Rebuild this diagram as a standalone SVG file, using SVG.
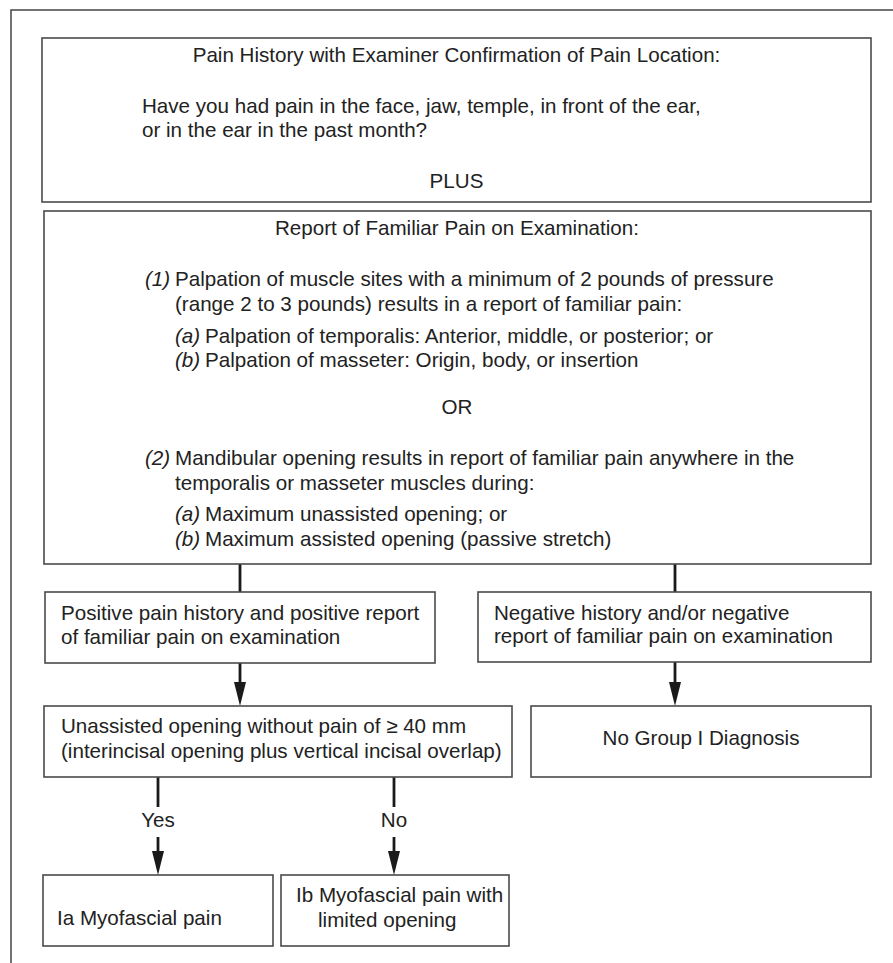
<svg xmlns="http://www.w3.org/2000/svg" width="893" height="963" viewBox="0 0 893 963">
<style>
  .bg { fill: #ffffff; }
  .frame { fill: none; stroke: #444; stroke-width: 1.5; }
  .box { fill: #ffffff; stroke: #4a4a4a; stroke-width: 1.6; }
  .t { font-family: "Liberation Sans", Arial, sans-serif; font-size: 20.6px; fill: #222; }
  .c { text-anchor: middle; }
  .i { font-style: italic; }
  .conn { fill: none; stroke: #1a1a1a; stroke-width: 2.8; }
  .arrow { marker-end: url(#ah); }
</style>
<defs>
  <marker id="ah" viewBox="0 -6 24 12" refX="4" refY="0" markerWidth="24" markerHeight="12" markerUnits="userSpaceOnUse" orient="auto">
    <path d="M0,-6 L24,0 L0,6 Z" fill="#1a1a1a"/>
  </marker>
</defs>
<rect class="bg" x="0" y="0" width="893" height="963"/>
<path class="frame" d="M11,963 L11,10 L893,10"/>

<g id="connectors">
  <line class="conn" x1="240" y1="564" x2="240" y2="592"/>
  <line class="conn" x1="675" y1="564" x2="675" y2="592"/>
  <line class="conn arrow" x1="240" y1="663" x2="240" y2="686"/>
  <line class="conn arrow" x1="675" y1="662" x2="675" y2="686"/>
  <line class="conn" x1="158" y1="777" x2="158" y2="807"/>
  <line class="conn arrow" x1="158" y1="837" x2="158" y2="855"/>
  <line class="conn" x1="394" y1="777" x2="394" y2="807"/>
  <line class="conn arrow" x1="394" y1="837" x2="394" y2="855"/>
  <text class="t c" x="158" y="827">Yes</text>
  <text class="t c" x="394" y="827">No</text>
</g>

<g id="history">
  <rect class="box" x="42" y="38" width="829" height="164"/>
  <text class="t c" x="456.5" y="62">Pain History with Examiner Confirmation of Pain Location:</text>
  <text class="t" x="142" y="113">Have you had pain in the face, jaw, temple, in front of the ear,</text>
  <text class="t" x="142" y="137">or in the ear in the past month?</text>
  <text class="t c" x="456.5" y="188">PLUS</text>
</g>

<g id="exam">
  <rect class="box" x="44" y="211" width="827" height="353"/>
  <text class="t c" x="457" y="235">Report of Familiar Pain on Examination:</text>
  <text class="t i" x="145" y="286">(1)</text>
  <text class="t" x="175" y="286">Palpation of muscle sites with a minimum of 2 pounds of pressure</text>
  <text class="t" x="175" y="311">(range 2 to 3 pounds) results in a report of familiar pain:</text>
  <text class="t i" x="175" y="343">(a)</text>
  <text class="t" x="205" y="343">Palpation of temporalis: Anterior, middle, or posterior; or</text>
  <text class="t i" x="175" y="367">(b)</text>
  <text class="t" x="205" y="367">Palpation of masseter: Origin, body, or insertion</text>
  <text class="t c" x="457" y="414">OR</text>
  <text class="t i" x="145" y="465">(2)</text>
  <text class="t" x="175" y="465">Mandibular opening results in report of familiar pain anywhere in the</text>
  <text class="t" x="175" y="490">temporalis or masseter muscles during:</text>
  <text class="t i" x="175" y="521">(a)</text>
  <text class="t" x="205" y="521">Maximum unassisted opening; or</text>
  <text class="t i" x="175" y="546">(b)</text>
  <text class="t" x="205" y="546">Maximum assisted opening (passive stretch)</text>
</g>

<g id="positive">
  <rect class="box" x="45" y="592" width="390" height="71"/>
  <text class="t" x="61" y="620">Positive pain history and positive report</text>
  <text class="t" x="61" y="644">of familiar pain on examination</text>
</g>

<g id="negative">
  <rect class="box" x="478" y="592" width="393" height="70"/>
  <text class="t" x="494" y="620">Negative history and/or negative</text>
  <text class="t" x="494" y="643">report of familiar pain on examination</text>
</g>

<g id="opening">
  <rect class="box" x="44" y="706" width="468" height="71"/>
  <text class="t" x="61" y="733">Unassisted opening without pain of ≥ 40 mm</text>
  <text class="t" x="61" y="758">(interincisal opening plus vertical incisal overlap)</text>
</g>

<g id="nogroup">
  <rect class="box" x="531" y="706" width="340" height="71"/>
  <text class="t c" x="701" y="745">No Group I Diagnosis</text>
</g>

<g id="ia">
  <rect class="box" x="43" y="875" width="230" height="71"/>
  <text class="t" x="57" y="925">Ia Myofascial pain</text>
</g>

<g id="ib">
  <rect class="box" x="281" y="875" width="228" height="71"/>
  <text class="t" x="296" y="902">Ib Myofascial pain with</text>
  <text class="t" x="318" y="927">limited opening</text>
</g>
</svg>
